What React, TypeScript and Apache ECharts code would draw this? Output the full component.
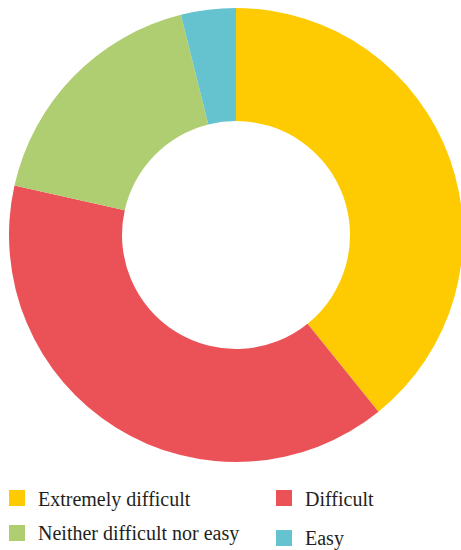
import React, { useEffect, useRef } from "react";
import * as echarts from "echarts";

const categories = ["Extremely difficult", "Difficult", "Neither difficult nor easy", "Easy"];
const values = [39.2, 39.3, 17.6, 3.9];
const colors = ["#FECB02", "#EA5258", "#AFCD71", "#64C3CF"];
const legendLeft = ["Extremely difficult", "Neither difficult nor easy"];
const legendRight = ["Difficult", "Easy"];

const SERIF = "'Liberation Serif', 'DejaVu Serif', 'Times New Roman', serif";

export default function App() {
  const ref = useRef<HTMLDivElement>(null);
  useEffect(() => {
    document.body.style.margin = "0";
    const chart = echarts.init(ref.current!, null, { renderer: "svg" });

    const legendItem = (name: string, sx: number, sy: number, ty: number) => {
      const color = colors[categories.indexOf(name)];
      return [
        { type: "rect", left: sx, top: sy, shape: { x: 0, y: 0, width: 16, height: 16 }, style: { fill: color } },
        {
          type: "text",
          left: sx + 29,
          top: ty,
          z: 10,
          style: {
            text: name,
            fontFamily: SERIF,
            fontSize: 20,
            font: "20px " + SERIF,
            fill: "#231f20",
          },
        },
      ];
    };

    const graphics = [
      ...legendItem(legendLeft[0], 9, 490, 489),
      ...legendItem(legendLeft[1], 9, 525, 523),
      ...legendItem(legendRight[0], 276, 490, 489),
      ...legendItem(legendRight[1], 276, 530, 528),
    ];

    chart.setOption({
      animation: false,
      color: colors,
      textStyle: { fontFamily: SERIF },
      graphic: graphics,
      series: [
        {
          type: "pie",
          center: [236, 235],
          radius: [114, 227],
          startAngle: 90,
          clockwise: true,
          label: { show: false },
          labelLine: { show: false },
          emphasis: { disabled: true },
          data: categories.map((name, i) => ({ name, value: values[i] })),
        },
      ],
    });
    return () => chart.dispose();
  }, []);
  return <div ref={ref} style={{ width: 461, height: 550, fontFamily: SERIF }} />;
}
